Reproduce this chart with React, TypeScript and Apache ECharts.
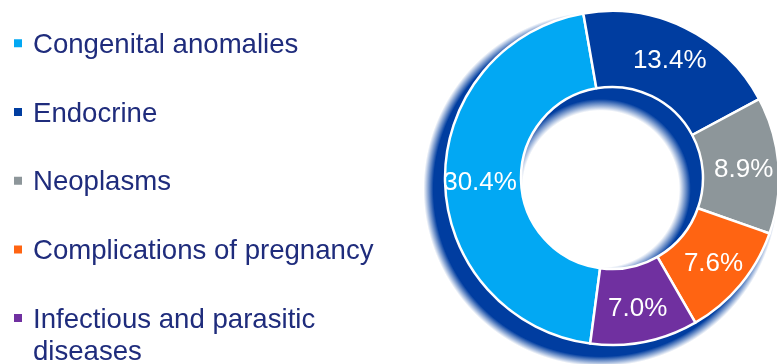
import React, { useEffect, useRef } from "react";
import * as echarts from "echarts";

const categories = [
  "Congenital anomalies",
  "Endocrine",
  "Neoplasms",
  "Complications of pregnancy",
  "Infectious and parasitic diseases",
];
const shares = [30.4, 13.4, 8.9, 7.6, 7.0];
const colors = ["#02A8F3", "#003DA0", "#8D969A", "#FF6412", "#7030A0"];

const FONT = "'Liberation Sans', Arial, sans-serif";
const TEXT_COLOR = "#1F2C7C";
const SHADOW = "rgba(0,61,160,1)";
const SHADOW_CLEAR = "rgba(0,61,160,0)";

export default function App() {
  const ref = useRef<HTMLDivElement>(null);

  useEffect(() => {
    document.body.style.margin = "0";
    if (!ref.current) return;
    const chart = echarts.init(ref.current, undefined, { renderer: "svg" });
    const center = [612, 178];
    const shadowCenter = [601, 189];
    const radius = [91, 167];
    const shadowRadius = [75, 180];
    chart.setOption({
      animation: false,
      color: colors,
      legend: [
        {
          orient: "vertical",
          left: 12,
          top: 27.3,
          padding: 0,
          itemGap: 36.7,
          itemWidth: 10,
          itemHeight: 10,
          icon: "rect",
          selectedMode: false,
          data: categories.slice(0, 4),
          textStyle: {
            fontFamily: FONT,
            fontSize: 27.6,
            lineHeight: 32,
            color: TEXT_COLOR,
            padding: [0, 0, 0, 5],
          },
        },
        {
          orient: "vertical",
          left: 12,
          top: 270,
          padding: 0,
          itemWidth: 10,
          itemHeight: 10,
          icon: "rect",
          selectedMode: false,
          data: categories.slice(4),
          formatter: (n: string) => "\n" + n.replace("parasitic ", "parasitic\n"),
          textStyle: {
            fontFamily: FONT,
            fontSize: 27.6,
            lineHeight: 32,
            color: TEXT_COLOR,
            padding: [0, 0, 0, 5],
          },
        },
      ],
      series: [
        {
          type: "pie",
          name: "shadow",
          silent: true,
          center: shadowCenter,
          radius: shadowRadius,
          startAngle: 262.5,
          clockwise: true,
          label: { show: false },
          labelLine: { show: false },
          data: [
            {
              value: 1,
              name: "__shadow",
              itemStyle: {
                color: {
                  type: "radial",
                  x: 0.5,
                  y: 0.5,
                  r: 0.5,
                  colorStops: [
                    { offset: 0, color: SHADOW_CLEAR },
                    { offset: 0.435, color: SHADOW_CLEAR },
                    { offset: 0.5, color: SHADOW },
                    { offset: 0.93, color: SHADOW },
                    { offset: 0.985, color: SHADOW_CLEAR },
                    { offset: 1, color: SHADOW_CLEAR },
                  ],
                },
              },
            },
          ],
        },
        {
          type: "pie",
          name: "Share",
          center,
          radius,
          startAngle: 262.5,
          clockwise: true,
          avoidLabelOverlap: false,
          itemStyle: { borderColor: "#ffffff", borderWidth: 2.5 },
          label: {
            show: true,
            position: "inside",
            formatter: (p: any) => Number(p.value).toFixed(1) + "%",
            color: "#ffffff",
            fontFamily: FONT,
            fontSize: 26,
          },
          labelLine: { show: false },
          emphasis: { disabled: true },
          data: categories.map((name, i) => ({ name, value: shares[i] })),
        },
      ],
    });
    return () => chart.dispose();
  }, []);

  return (
    <div
      ref={ref}
      style={{ position: "fixed", left: 0, top: 0, width: 777, height: 364 }}
    />
  );
}
